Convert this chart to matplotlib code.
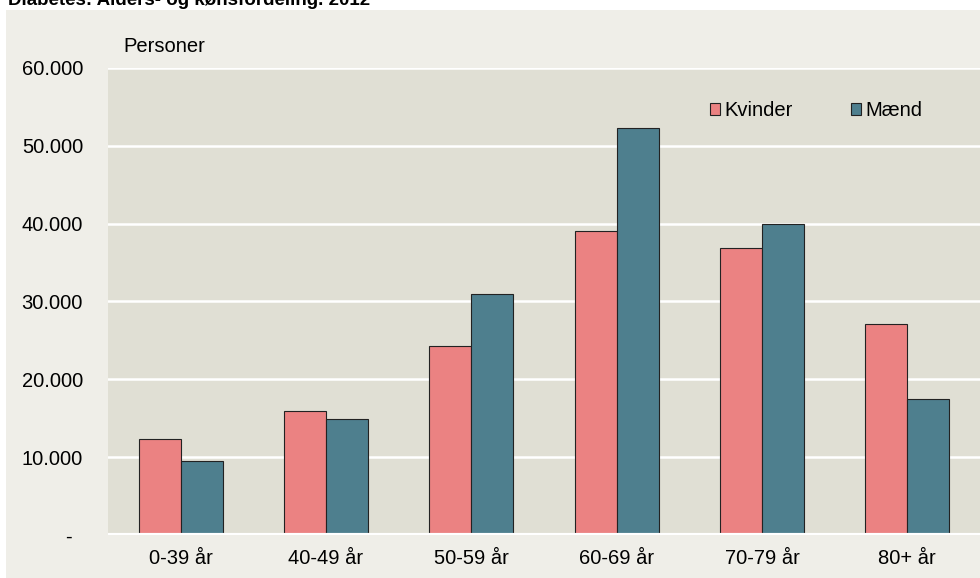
import numpy as np
import matplotlib.pyplot as plt
from matplotlib.patches import Rectangle
from matplotlib.transforms import ScaledTranslation

plt.rcParams['font.family'] = ['Liberation Sans', 'DejaVu Sans']

# Diabetes-patienter fordelt på alder og køn, 2012
aldersgrupper = ['0-39 år', '40-49 år', '50-59 år', '60-69 år', '70-79 år', '80+ år']
kvinder = [12300, 15900, 24300, 39100, 36900, 27100]
maend = [9500, 14900, 31000, 52300, 40000, 17500]
yticks = [0, 10000, 20000, 30000, 40000, 50000, 60000]
ytick_labels = ['-', '10.000', '20.000', '30.000', '40.000', '50.000', '60.000']

fs = 14.5

fig = plt.figure(figsize=(9.8, 5.78), dpi=100)
fig.patch.set_facecolor('white')

# lys baggrund bag hele diagrammet
fig.patches.append(Rectangle((6 / 980, 0), 1, 1 - 10 / 578, transform=fig.transFigure,
                             facecolor='#EFEEE8', edgecolor='none', zorder=-10))

ax = fig.add_axes([108 / 980, 43 / 578, 872 / 980, 467 / 578])
ax.set_facecolor('#E0DFD4')

x = np.arange(len(aldersgrupper))
w = 0.29
ax.bar(x - w / 2, kvinder, w, color='#EB8282', edgecolor='#222222', linewidth=0.8,
       label='Kvinder', zorder=3)
ax.bar(x + w / 2, maend, w, color='#4E7F8E', edgecolor='#222222', linewidth=0.8,
       label='Mænd', zorder=3)

ax.set_xlim(-0.5, len(aldersgrupper) - 0.5)
ax.set_ylim(0, 60000)
ax.set_yticks(yticks)
ax.set_yticklabels(ytick_labels, fontsize=fs)
ax.set_xticks(x)
ax.set_xticklabels(aldersgrupper, fontsize=fs)
ax.tick_params(length=0)
ax.tick_params(axis='y', pad=18)
ax.tick_params(axis='x', pad=10)
for lbl in ax.get_yticklabels():
    lbl.set_horizontalalignment('right')
# nul vises som "-" lidt længere inde, som i talformatet
nul = ax.get_yticklabels()[0]
nul.set_transform(nul.get_transform() + ScaledTranslation(-0.11, 0, fig.dpi_scale_trans))

ax.grid(axis='y', color='white', linewidth=1.8, zorder=1)
ax.axhline(0, color='white', linewidth=3, zorder=4)
for s in ax.spines.values():
    s.set_visible(False)

ax.legend(loc='upper left', bbox_to_anchor=(710 / 980, 1 - 101 / 578),
          bbox_transform=fig.transFigure, ncol=2, frameon=False, borderpad=0,
          borderaxespad=0, fontsize=fs, handlelength=0.5, handleheight=0.5,
          handletextpad=0.2, columnspacing=2.9)

fig.text(123 / 980, 1 - 47 / 578, 'Personer', fontsize=fs, va='center')
fig.text(8 / 980, 1 - 5 / 578, 'Diabetes: Alders- og kønsfordeling. 2012',
         fontsize=13.5, fontweight='bold', va='baseline')

fig.savefig('out.png', dpi=100)
